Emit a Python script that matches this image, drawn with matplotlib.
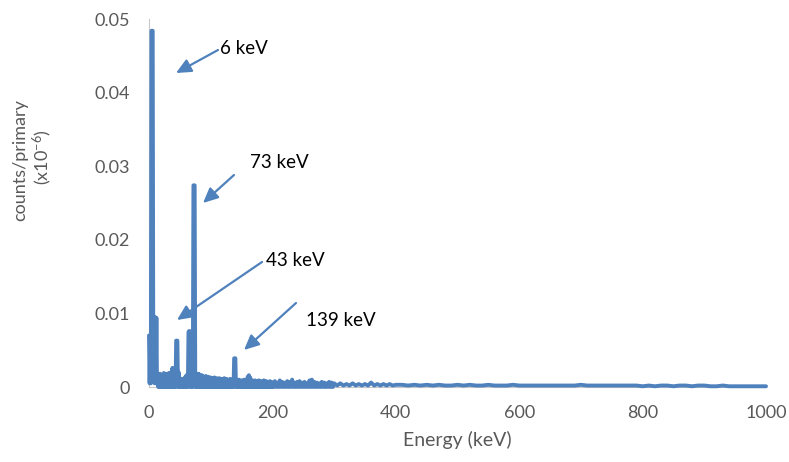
import matplotlib
matplotlib.use("Agg")
import matplotlib.pyplot as plt

# spectrum, counts/primary in units of 1e-3 (chart scale is x1e-6)
energy_low = list(range(0, 201))
counts_low = [7.0, 0.5, 7.0, 0.5, 48.4, 48.4, 48.4, 3.0, 9.5, 0.5,
              9.5, 0.5, 9.4, 0.5, 1.8, 0.0, 1.5, 0.0, 1.8, 0.0,
              1.2, 0.0, 1.6, 0.0, 1.9, 0.0, 1.5, 0.0, 1.8, 0.0,
              1.7, 0.0, 1.9, 0.0, 1.6, 0.0, 2.0, 0.0, 2.6, 0.0,
              2.4, 0.0, 1.9, 0.0, 6.3, 6.3, 6.3, 0.0, 2.0, 0.0,
              1.2, 0.0, 0.9, 0.0, 1.1, 0.0, 0.8, 0.0, 1.3, 0.0,
              1.5, 0.0, 1.7, 0.0, 7.5, 7.6, 7.6, 0.0, 1.0, 0.0,
              1.8, 0.0, 27.4, 27.4, 27.4, 0.0, 1.6, 0.0, 1.5, 0.0,
              1.8, 0.0, 1.7, 0.0, 1.5, 0.0, 1.6, 0.0, 1.4, 0.0,
              1.3, 0.0, 1.5, 0.0, 1.2, 0.0, 1.4, 0.0, 1.1, 0.0,
              1.3, 0.0, 1.2, 0.0, 1.0, 0.0, 1.3, 0.0, 1.1, 0.0,
              1.2, 0.0, 1.0, 0.0, 1.2, 0.0, 0.9, 0.0, 1.1, 0.0,
              1.0, 0.0, 1.2, 0.0, 0.9, 0.0, 1.1, 0.0, 0.8, 0.0,
              1.0, 0.0, 1.1, 0.0, 0.8, 0.0, 1.0, 0.0, 3.9, 3.9,
              3.9, 0.0, 0.9, 0.0, 0.8, 0.0, 1.0, 0.0, 0.7, 0.0,
              0.9, 0.0, 0.8, 0.0, 1.0, 0.0, 0.7, 0.0, 0.9, 0.0,
              1.4, 0.0, 1.6, 0.0, 1.3, 0.0, 0.8, 0.0, 0.9, 0.0,
              0.7, 0.0, 0.9, 0.0, 0.8, 0.0, 0.7, 0.0, 0.9, 0.0,
              0.6, 0.0, 0.8, 0.0, 0.7, 0.0, 0.9, 0.0, 0.6, 0.0,
              0.8, 0.0, 0.7, 0.0, 0.6, 0.0, 0.8, 0.0, 0.7, 0.0,
              0.6]
energy_mid = list(range(202, 301, 2))
counts_mid = [0.0, 0.8, 0.0, 0.6, 0.0, 0.9, 0.0, 0.7, 0.0, 0.6,
              0.0, 0.8, 0.0, 0.7, 0.0, 1.0, 0.0, 0.6, 0.0, 0.7,
              0.0, 0.8, 0.0, 0.6, 0.0, 0.7, 0.0, 0.5, 0.0, 0.9,
              0.0, 1.0, 0.0, 0.7, 0.0, 0.6, 0.0, 0.5, 0.0, 0.7,
              0.0, 0.6, 0.0, 0.5, 0.0, 0.7, 0.0, 0.6, 0.0, 0.5]
energy_upper = list(range(305, 401, 5))
counts_upper = [0.2, 0.5, 0.2, 0.4, 0.2, 0.5, 0.2, 0.4, 0.2, 0.4,
                0.2, 0.6, 0.2, 0.4, 0.2, 0.4, 0.2, 0.4, 0.2, 0.3]
energy_high = list(range(410, 1001, 10))
counts_high = [0.3, 0.2, 0.3, 0.2, 0.3, 0.2, 0.3, 0.2, 0.2, 0.3,
               0.2, 0.3, 0.2, 0.2, 0.3, 0.2, 0.2, 0.2, 0.3, 0.2,
               0.2, 0.2, 0.2, 0.2, 0.2, 0.2, 0.2, 0.2, 0.2, 0.3,
               0.2, 0.2, 0.2, 0.2, 0.2, 0.2, 0.2, 0.2, 0.2, 0.1,
               0.2, 0.1, 0.2, 0.2, 0.1, 0.2, 0.2, 0.1, 0.2, 0.2,
               0.1, 0.1, 0.2, 0.1, 0.1, 0.1, 0.1, 0.1, 0.1, 0.1]

energy = energy_low + energy_mid + energy_upper + energy_high
counts = [c / 1000.0 for c in counts_low + counts_mid + counts_upper + counts_high]

x_ticks = [0, 200, 400, 600, 800, 1000]
y_ticks = [0, 0.01, 0.02, 0.03, 0.04, 0.05]
y_tick_labels = ["0", "0.01", "0.02", "0.03", "0.04", "0.05"]

# peak labels: text, label position (px), arrow tail (px), arrow tip (px)
peak_labels = ["6 keV", "73 keV", "43 keV", "139 keV"]
label_px = [(220, 48), (250, 163), (266, 261), (306, 321)]
tail_px = [(218, 50), (234, 175), (262, 262), (296, 303)]
tip_px = [(176, 73), (203, 203), (177, 320), (244, 350)]

W, H = 789, 462
blue = "#4f81bd"
grey = "#595959"

plt.rcParams['font.family'] = ['Lato', 'DejaVu Sans']
plt.rcParams['mathtext.fontset'] = 'custom'
plt.rcParams['mathtext.rm'] = 'Lato'
plt.rcParams['mathtext.default'] = 'regular'

fig = plt.figure(figsize=(W / 100, H / 100), dpi=100)
ax = fig.add_axes([149 / W, 1 - 387 / H, (766 - 149) / W, (387 - 19) / H])

ax.plot(energy, counts, color=blue, lw=2.8, solid_joinstyle='round',
        solid_capstyle='round', clip_on=False, zorder=3)

ax.set_xlim(0, 1000)
ax.set_ylim(0, 0.05)
ax.set_xticks(x_ticks)
ax.set_yticks(y_ticks)
ax.set_yticklabels(y_tick_labels)
ax.tick_params(length=0, labelsize=13, labelcolor=grey)
ax.tick_params(axis='y', pad=14)
ax.tick_params(axis='x', pad=13)

for side in ['top', 'right']:
    ax.spines[side].set_visible(False)
for side in ['left', 'bottom']:
    ax.spines[side].set_color('#c8c8c8')
    ax.spines[side].set_linewidth(0.8)

ax.set_xlabel("Energy (keV)", fontsize=14, color=grey, labelpad=7)

# two-line y label, placed like the original
fig.text(20 / W, 1 - 160 / H, "counts/primary", rotation=90, ha='center', va='center',
         fontsize=13, color=grey)
fig.text(42 / W, 1 - 157 / H, "(x10$^{-6}$)", rotation=90, ha='center', va='center',
         fontsize=13, color=grey)

for txt, lp, tp, hp in zip(peak_labels, label_px, tail_px, tip_px):
    fig.text(lp[0] / W, 1 - lp[1] / H, txt, ha='left', va='center', fontsize=13.5, color='black')
    ax.annotate("", xy=(hp[0] / W, 1 - hp[1] / H), xycoords='figure fraction',
                xytext=(tp[0] / W, 1 - tp[1] / H), textcoords='figure fraction',
                arrowprops=dict(arrowstyle='-|>,head_length=0.6,head_width=0.28',
                                mutation_scale=15, color=blue, lw=1.6,
                                shrinkA=0, shrinkB=0))

fig.savefig("out.png", dpi=100)
